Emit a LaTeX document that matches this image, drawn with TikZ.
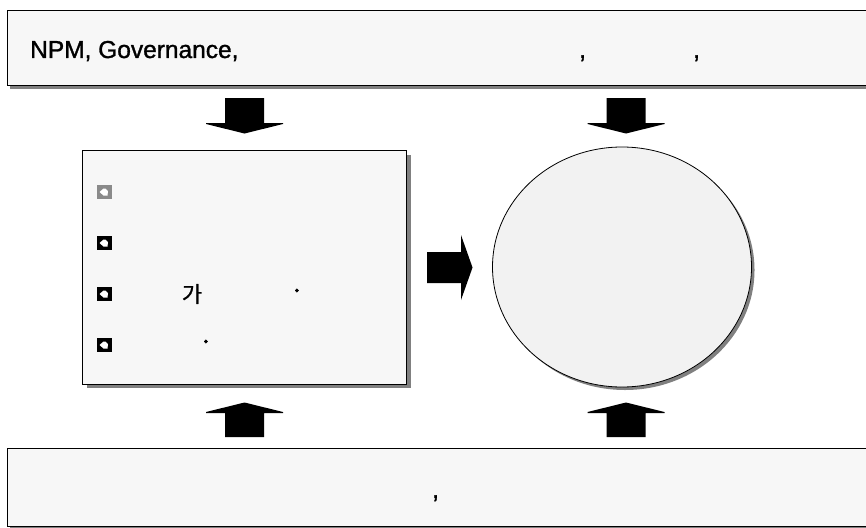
\documentclass[tikz,border=0pt]{standalone}
\usepackage{fontspec}
\usetikzlibrary{shapes.geometric}
\setmainfont{Liberation Sans}
\newfontfamily\lblfont[FakeBold=1.2]{Liberation Sans}
\newfontfamily\kr[FakeBold=0.8]{Noto Sans CJK KR}
\newfontfamily\krdot[FakeBold=2]{Noto Sans CJK KR}
\definecolor{boxfill}{HTML}{F7F7F7}
\definecolor{circfill}{HTML}{F2F2F2}
\definecolor{shadow}{HTML}{808080}
\definecolor{bulgray}{HTML}{8A8A8A}
\begin{document}
\begin{tikzpicture}[x=1pt,y=-1pt,
  panel/.style={draw=black,line width=0.9pt,fill=boxfill},
  shade/.style={fill=shadow,draw=none},
  blockarrow/.style={fill=black,draw=none},
  lbl/.style={inner sep=0pt,anchor=base west,font=\lblfont\fontsize{24.5}{28}\selectfont},
  dotlbl/.style={inner sep=0pt,font=\krdot\fontsize{24}{26}\selectfont},
  bul/.style={minimum width=15pt,minimum height=14pt,inner sep=0pt}]
\useasboundingbox (0,0) rectangle (866,527);
\fill[white] (0,0) rectangle (866,527);
% top box
\fill[shade] (10,14) rectangle (875,89);
\draw[panel] (7,10) rectangle (875,85);
\node[lbl] (toptext) at (30,58) {NPM, Governance,};
\node[lbl] (topc1) at (579,58) {,};
\node[lbl] (topc2) at (693,58) {,};
% bottom box
\fill[shade] (10,452) rectangle (875,530);
\draw[panel] (7,448) rectangle (875,526);
\node[lbl] (botc) at (432,498) {,};
% left rectangle
\fill[shade] (87,155) rectangle (411,388);
\draw[panel] (82,150) rectangle (406,384);
\node[name=lrect,inner sep=0pt,minimum width=324pt,minimum height=234pt] at (244,267) {};
% bullets
\foreach \n/\yy/\c in {b1/192/bulgray,b2/243/black,b3/294/black,b4/345/black}{
  \node[bul,fill=\c] (\n) at (104,\yy) {};
  \fill[white] ([xshift=-4.5pt,yshift=0pt]\n.center) -- ([xshift=-0.5pt,yshift=-3.5pt]\n.center) -- ([xshift=3.5pt,yshift=-3.5pt]\n.center)
     -- ([xshift=4pt,yshift=1pt]\n.center) -- ([xshift=1.5pt,yshift=3.5pt]\n.center) -- ([xshift=-0.5pt,yshift=3.5pt]\n.center) -- cycle;
}
\node[inner sep=0pt,font=\kr\fontsize{22}{24}\selectfont] (ga) at (192,294) {가};
\node[dotlbl] (dot1) at (297,294) {·};
\node[dotlbl] (dot2) at (206,345) {·};
% ellipse
\fill[shade] (625,270) ellipse [x radius=129.5, y radius=120];
\node[draw=black,line width=0.8pt,fill=circfill,ellipse,minimum width=259pt,minimum height=240pt,inner sep=0pt] (circ) at (622,267) {};
% down arrows
\foreach \cx in {244.5,626}{
  \fill[blockarrow] (\cx-19.5,98) -- (\cx+19.5,98) -- (\cx+19.5,123) -- (\cx+38.5,123) -- (\cx+38.5,124)
     -- (\cx,133.5) -- (\cx-38.5,124) -- (\cx-38.5,123) -- (\cx-19.5,123) -- cycle;
  \fill[blockarrow] (\cx-19.5,437) -- (\cx+19.5,437) -- (\cx+19.5,413) -- (\cx+38.5,413) -- (\cx+38.5,412)
     -- (\cx,402.5) -- (\cx-38.5,412) -- (\cx-38.5,413) -- (\cx-19.5,413) -- cycle;
}
% right arrow
\fill[blockarrow] (427,252) -- (461,252) -- (461,235) -- (472.5,267.5) -- (461,300) -- (461,283) -- (427,283) -- cycle;
\end{tikzpicture}
\end{document}
